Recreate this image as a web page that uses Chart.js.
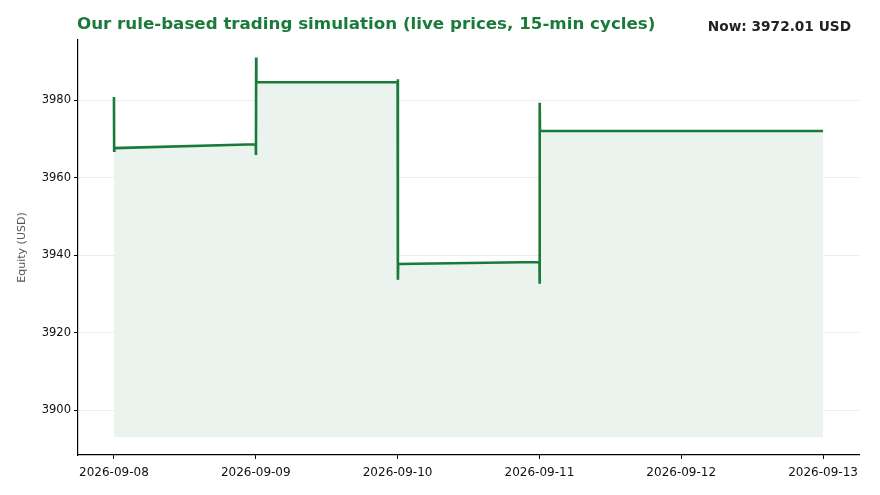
<!DOCTYPE html>
<html lang="en">
<head>
    <meta charset="UTF-8">
    <title>Rule-based trading simulation</title>
    <script src="https://cdn.jsdelivr.net/npm/chart.js"></script>
    <style>
        body { margin: 0; background: #fff; font-family: "DejaVu Sans", sans-serif; }
        #wrap { position: relative; width: 880px; height: 495px; }
        #title { position: absolute; left: 77px; top: 13px; font-size: 16.7px; font-weight: bold; color: #1a7a3a; white-space: nowrap; }
        #now { position: absolute; right: 29px; top: 18px; font-size: 13.7px; font-weight: bold; color: #222; white-space: nowrap; }
    </style>
</head>
<body>
    <div id="wrap">
        <canvas id="equityChart" width="880" height="495"></canvas>
        <div id="title">Our rule-based trading simulation (live prices, 15-min cycles)</div>
        <div id="now">Now: 3972.01 USD</div>
    </div>

    <script>
        // equity snapshots (UTC)
        const times = [
            '2026-09-08T00:00', '2026-09-08T00:02', '2026-09-08T00:04',
            '2026-09-09T00:00', '2026-09-09T00:02', '2026-09-09T00:04', '2026-09-09T00:06',
            '2026-09-10T00:00', '2026-09-10T00:02', '2026-09-10T00:04', '2026-09-10T00:06',
            '2026-09-11T00:00', '2026-09-11T00:02', '2026-09-11T00:04', '2026-09-11T00:06',
            '2026-09-12T00:00', '2026-09-13T00:00'
        ];
        const equity = [
            3980.8, 3966.9, 3967.6,
            3968.6, 3965.8, 3991.0, 3984.6,
            3984.6, 3985.4, 3933.6, 3937.7,
            3938.2, 3932.6, 3979.3, 3972.01,
            3972.01, 3972.01
        ];
        const fillBase = 3893;

        const xTickDays = ['2026-09-08', '2026-09-09', '2026-09-10', '2026-09-11', '2026-09-12', '2026-09-13'];
        const yTicks = [3900, 3920, 3940, 3960, 3980];
        const yRange = [3888.4, 3995.5];

        const DAY = 86400000;
        const toMs = s => Date.parse(s + (s.length > 10 ? 'Z' : 'T00:00Z'));
        const points = times.map((t, i) => ({ x: toMs(t), y: equity[i] }));
        const xTickVals = xTickDays.map(toMs);
        const xPad = 0.2535 * DAY;

        new Chart(document.getElementById('equityChart'), {
            type: 'line',
            data: {
                datasets: [{
                    data: points,
                    borderColor: '#1a7a3a',
                    borderWidth: 2.6,
                    backgroundColor: '#eaf3ed',
                    fill: { value: fillBase },
                    pointRadius: 0,
                    tension: 0
                }]
            },
            options: {
                responsive: false,
                animation: false,
                layout: { padding: { top: 40, right: 21, left: 0, bottom: 0 } },
                plugins: {
                    legend: { display: false },
                    tooltip: { enabled: false }
                },
                scales: {
                    x: {
                        type: 'linear',
                        min: xTickVals[0] - xPad,
                        max: xTickVals[xTickVals.length - 1] + xPad,
                        afterBuildTicks: s => { s.ticks = xTickVals.map(v => ({ value: v })); },
                        afterFit: s => { s.height = 40; },
                        grid: { drawOnChartArea: false, drawTicks: true, tickLength: 4, tickColor: '#000' },
                        border: { color: '#000', width: 1.2 },
                        ticks: {
                            color: '#111',
                            padding: 7,
                            maxRotation: 0,
                            font: { family: 'DejaVu Sans', size: 12 },
                            callback: v => new Date(v).toISOString().slice(0, 10)
                        }
                    },
                    y: {
                        min: yRange[0],
                        max: yRange[1],
                        afterBuildTicks: s => { s.ticks = yTicks.map(v => ({ value: v })); },
                        afterFit: s => { s.width = 78; },
                        grid: { color: '#ececec', lineWidth: 1, tickLength: 4, tickColor: '#000' },
                        border: { color: '#000', width: 1.2 },
                        ticks: {
                            color: '#111',
                            padding: 3,
                            font: { family: 'DejaVu Sans', size: 11.5 },
                            callback: v => String(v)
                        },
                        title: {
                            display: true,
                            text: 'Equity (USD)',
                            color: '#555',
                            padding: { top: 16, bottom: 0 },
                            font: { family: 'DejaVu Sans', size: 11 }
                        }
                    }
                }
            }
        });
    </script>
</body>
</html>
